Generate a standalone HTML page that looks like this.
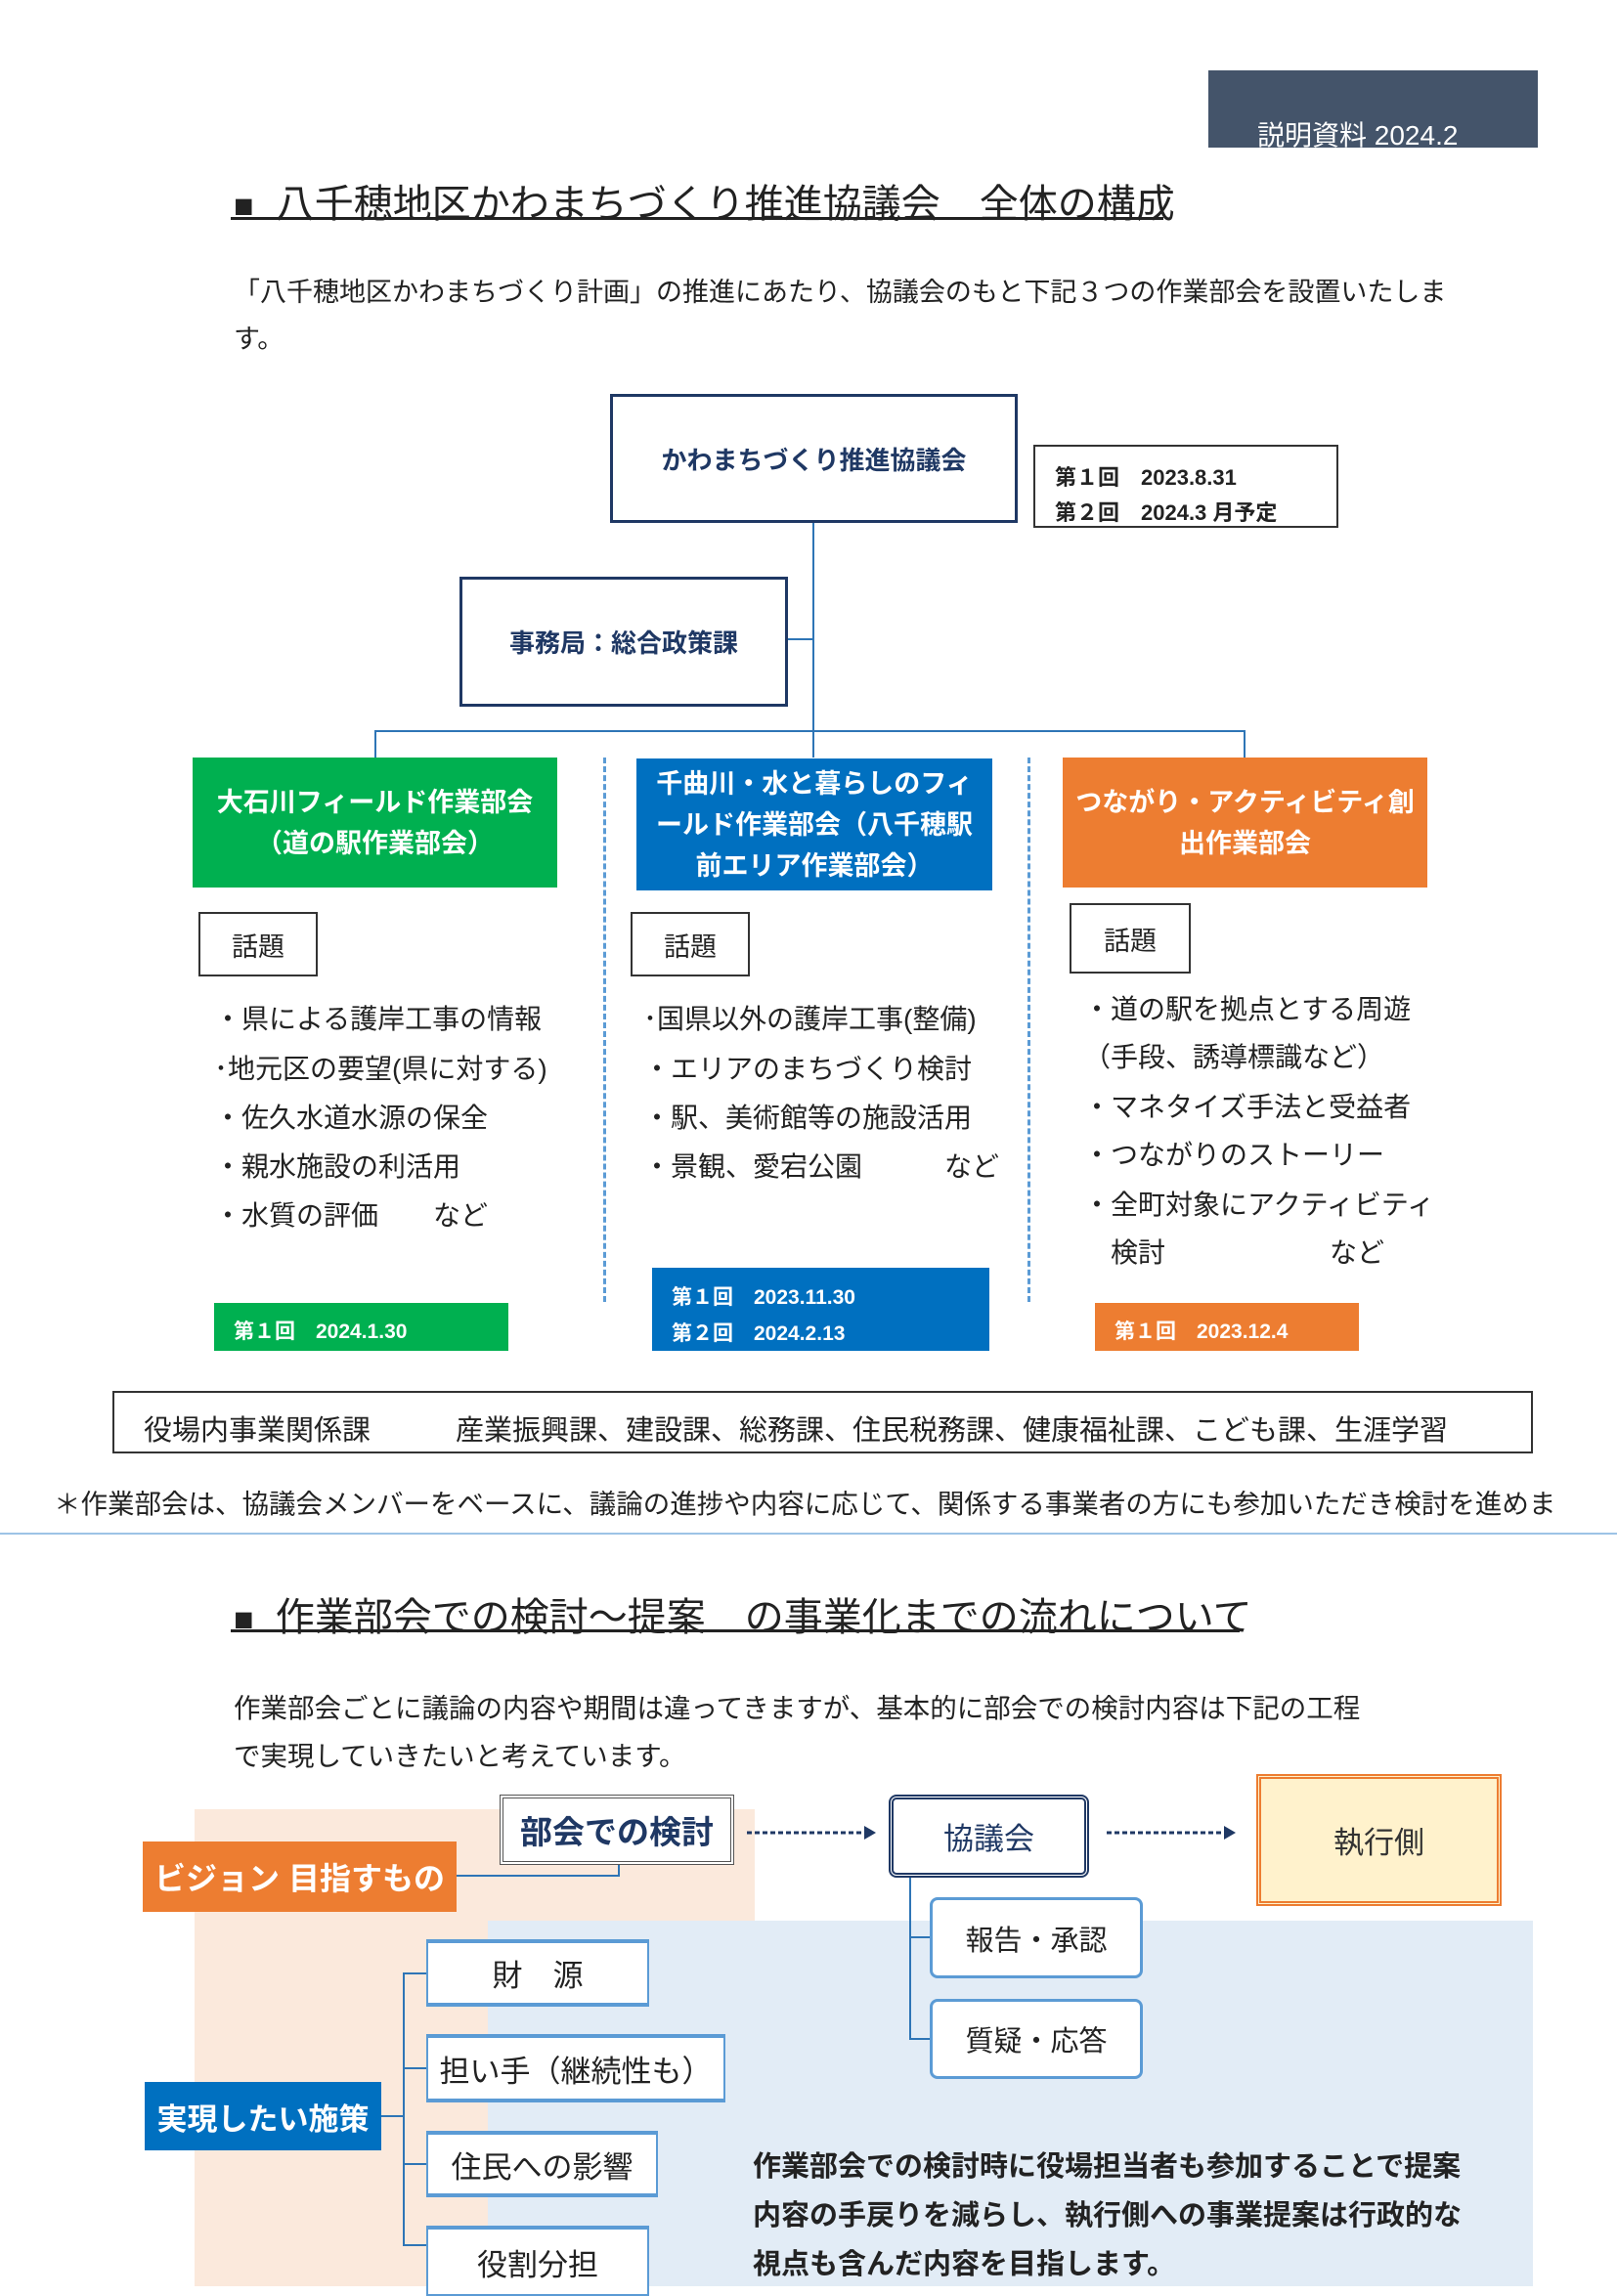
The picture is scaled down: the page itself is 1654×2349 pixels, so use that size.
<!DOCTYPE html>
<html><head><meta charset="utf-8">
<style>
*{margin:0;padding:0;box-sizing:border-box}
body{width:1654px;height:2339px;position:relative;background:#fff;font-family:"Liberation Sans","Noto Sans CJK JP",sans-serif;color:#222;overflow:hidden}
.a{position:absolute}
.c{display:flex;align-items:center;justify-content:center;text-align:center}
.t{white-space:nowrap}
.b{font-weight:bold}
.li{position:absolute;font-size:28px;white-space:nowrap;line-height:1}
</style></head><body>

<div class="a" style="left:1236px;top:72px;width:337px;height:79px;background:#44546a;overflow:hidden"><div class="a t" style="left:50px;top:45px;color:#fff;font-size:28px">説明資料 2024.2</div></div>

<div class="a t" style="left:239px;top:176px;font-size:40px"><span style="font-size:34px">■</span>&nbsp;&nbsp;八千穂地区かわまちづくり推進協議会　全体の構成</div>
<div class="a" style="left:236px;top:222px;width:954px;height:3px;background:#222"></div>
<div class="a t" style="left:239px;top:277px;font-size:27px">「八千穂地区かわまちづくり計画」の推進にあたり、協議会のもと下記３つの作業部会を設置いたしま</div>
<div class="a t" style="left:239px;top:325px;font-size:27px">す。</div>

<!-- connectors -->
<div class="a" style="left:831px;top:535px;width:2px;height:240px;background:#2e75b6"></div>
<div class="a" style="left:806px;top:653px;width:26px;height:2px;background:#2e75b6"></div>
<div class="a" style="left:383px;top:747px;width:891px;height:2px;background:#2e75b6"></div>
<div class="a" style="left:383px;top:747px;width:2px;height:28px;background:#2e75b6"></div>
<div class="a" style="left:1272px;top:747px;width:2px;height:28px;background:#2e75b6"></div>

<div class="a c b" style="left:624px;top:403px;width:417px;height:132px;border:3px solid #1f3864;color:#1f3864;font-size:26px">かわまちづくり推進協議会</div>
<div class="a b" style="left:1057px;top:455px;width:312px;height:85px;border:2px solid #333;font-size:22px;padding:14px 0 0 20px;line-height:36px">第１回　2023.8.31<br>第２回　2024.3 月予定</div>
<div class="a c b" style="left:470px;top:590px;width:336px;height:133px;border:3px solid #1f3864;color:#1f3864;font-size:26px">事務局：総合政策課</div>

<div class="a c b" style="left:197px;top:775px;width:373px;height:133px;background:#00b050;color:#fff;font-size:27px;line-height:42px">大石川フィールド作業部会<br>（道の駅作業部会）</div>
<div class="a c b" style="left:651px;top:776px;width:364px;height:135px;background:#0070c0;color:#fff;font-size:27px;line-height:42px">千曲川・水と暮らしのフィ<br>ールド作業部会（八千穂駅<br>前エリア作業部会）</div>
<div class="a c b" style="left:1087px;top:775px;width:373px;height:133px;background:#ed7d31;color:#fff;font-size:27px;line-height:42px">つながり・アクティビティ創<br>出作業部会</div>

<div class="a" style="left:617px;top:775px;height:557px;border-left:3px dashed #5b9bd5"></div>
<div class="a" style="left:1051px;top:775px;height:557px;border-left:3px dashed #5b9bd5"></div>

<div class="a c" style="left:203px;top:933px;width:122px;height:66px;border:2px solid #333;font-size:27px">話題</div>
<div class="a c" style="left:645px;top:933px;width:122px;height:66px;border:2px solid #333;font-size:27px">話題</div>
<div class="a c" style="left:1094px;top:924px;width:124px;height:72px;border:2px solid #333;font-size:27px">話題</div>

<div class="li" style="left:219px;top:1029px">・県による護岸工事の情報</div>
<div class="li" style="left:219px;top:1080px">･地元区の要望(県に対する)</div>
<div class="li" style="left:219px;top:1130px">・佐久水道水源の保全</div>
<div class="li" style="left:219px;top:1180px">・親水施設の利活用</div>
<div class="li" style="left:219px;top:1230px">・水質の評価　　など</div>

<div class="li" style="left:658px;top:1029px">･国県以外の護岸工事(整備)</div>
<div class="li" style="left:658px;top:1080px">・エリアのまちづくり検討</div>
<div class="li" style="left:658px;top:1130px">・駅、美術館等の施設活用</div>
<div class="li" style="left:658px;top:1180px">・景観、愛宕公園　　　など</div>

<div class="li" style="left:1108px;top:1019px">・道の駅を拠点とする周遊</div>
<div class="li" style="left:1108px;top:1068px">（手段、誘導標識など）</div>
<div class="li" style="left:1108px;top:1119px">・マネタイズ手法と受益者</div>
<div class="li" style="left:1108px;top:1168px">・つながりのストーリー</div>
<div class="li" style="left:1108px;top:1219px">・全町対象にアクティビティ</div>
<div class="li" style="left:1108px;top:1268px">　検討　　　　　　など</div>

<div class="a b t" style="left:219px;top:1333px;width:301px;height:49px;background:#00b050;color:#fff;font-size:21px;padding:13px 0 0 20px">第１回　2024.1.30</div>
<div class="a b" style="left:667px;top:1297px;width:345px;height:85px;background:#0070c0;color:#fff;font-size:21px;padding:12px 0 0 20px;line-height:37px">第１回　2023.11.30<br>第２回　2024.2.13</div>
<div class="a b t" style="left:1120px;top:1333px;width:270px;height:49px;background:#ed7d31;color:#fff;font-size:21px;padding:13px 0 0 20px">第１回　2023.12.4</div>

<div class="a t" style="left:115px;top:1423px;width:1453px;height:64px;border:2px solid #333;font-size:29px;padding:15px 0 0 30px">役場内事業関係課　　　産業振興課、建設課、総務課、住民税務課、健康福祉課、こども課、生涯学習</div>
<div class="a t" style="left:55px;top:1516px;font-size:27.5px">＊作業部会は、協議会メンバーをベースに、議論の進捗や内容に応じて、関係する事業者の方にも参加いただき検討を進めま</div>
<div class="a" style="left:0;top:1568px;width:1654px;height:2px;background:#9dc3e6"></div>

<div class="a t" style="left:239px;top:1622px;font-size:40px"><span style="font-size:34px">■</span>&nbsp;&nbsp;作業部会での検討～提案　の事業化までの流れについて</div>
<div class="a" style="left:236px;top:1667px;width:1032px;height:3px;background:#222"></div>
<div class="a t" style="left:239px;top:1725px;font-size:27.5px">作業部会ごとに議論の内容や期間は違ってきますが、基本的に部会での検討内容は下記の工程</div>
<div class="a t" style="left:239px;top:1774px;font-size:27.5px">で実現していきたいと考えています。</div>

<div class="a" style="left:199px;top:1851px;width:573px;height:488px;background:#fbe9dc"></div>
<div class="a" style="left:499px;top:1965px;width:1069px;height:374px;background:#e2ecf6"></div>

<!-- connectors -->
<div class="a" style="left:467px;top:1918px;width:167px;height:2px;background:#2e75b6"></div>
<div class="a" style="left:632px;top:1906px;width:2px;height:14px;background:#2e75b6"></div>
<div class="a" style="left:930px;top:1919px;width:2px;height:168px;background:#2e75b6"></div>
<div class="a" style="left:930px;top:1981px;width:22px;height:2px;background:#2e75b6"></div>
<div class="a" style="left:930px;top:2085px;width:22px;height:2px;background:#2e75b6"></div>
<div class="a" style="left:412px;top:2018px;width:2px;height:280px;background:#2e75b6"></div>
<div class="a" style="left:390px;top:2164px;width:23px;height:2px;background:#2e75b6"></div>
<div class="a" style="left:412px;top:2018px;width:24px;height:2px;background:#2e75b6"></div>
<div class="a" style="left:412px;top:2115px;width:24px;height:2px;background:#2e75b6"></div>
<div class="a" style="left:412px;top:2213px;width:24px;height:2px;background:#2e75b6"></div>
<div class="a" style="left:412px;top:2296px;width:24px;height:2px;background:#2e75b6"></div>

<div class="a c b" style="left:511px;top:1836px;width:240px;height:72px;border:4px double #555;background:#fff;color:#1f3864;font-size:33px">部会での検討</div>
<div class="a c b" style="left:146px;top:1884px;width:321px;height:72px;background:#ed7d31;color:#fff;font-size:32px">ビジョン 目指すもの</div>

<svg class="a" style="left:760px;top:1865px" width="140" height="20"><line x1="4" y1="10" x2="126" y2="10" stroke="#1f3864" stroke-width="3" stroke-dasharray="5,3"/><polygon points="124,3 136,10 124,17" fill="#1f3864"/></svg>
<svg class="a" style="left:1128px;top:1865px" width="140" height="20"><line x1="4" y1="10" x2="126" y2="10" stroke="#1f3864" stroke-width="3" stroke-dasharray="5,3"/><polygon points="124,3 136,10 124,17" fill="#1f3864"/></svg>

<div class="a c" style="left:909px;top:1836px;width:205px;height:85px;border:5px double #1f3864;border-radius:8px;background:#fff;color:#1f3864;font-size:31px">協議会</div>
<div class="a c" style="left:1285px;top:1815px;width:251px;height:135px;border:5px double #ed7d31;background:#fff2cc;color:#333;font-size:31px">執行側</div>

<div class="a c" style="left:951px;top:1941px;width:218px;height:83px;border:3px solid #5b9bd5;border-radius:8px;background:#fff;font-size:29px">報告・承認</div>
<div class="a c" style="left:951px;top:2045px;width:218px;height:82px;border:3px solid #5b9bd5;border-radius:8px;background:#fff;font-size:29px">質疑・応答</div>

<div class="a c" style="left:436px;top:1984px;width:228px;height:69px;border:2px solid #5b9bd5;border-top-width:4px;border-bottom-width:4px;background:#fff;font-size:31px">財　源</div>
<div class="a c" style="left:436px;top:2081px;width:306px;height:70px;border:2px solid #5b9bd5;border-top-width:4px;border-bottom-width:4px;background:#fff;font-size:31px">担い手（継続性も）</div>
<div class="a c" style="left:436px;top:2180px;width:237px;height:68px;border:2px solid #5b9bd5;border-top-width:4px;border-bottom-width:4px;background:#fff;font-size:31px">住民への影響</div>
<div class="a c" style="left:436px;top:2277px;width:228px;height:72px;border:2px solid #5b9bd5;border-top-width:4px;background:#fff;font-size:31px">役割分担</div>

<div class="a c b" style="left:148px;top:2130px;width:242px;height:70px;background:#0070c0;color:#fff;font-size:31px">実現したい施策</div>

<div class="a b" style="left:770px;top:2192px;font-size:29px;line-height:50px;white-space:nowrap">作業部会での検討時に役場担当者も参加することで提案<br>内容の手戻りを減らし、執行側への事業提案は行政的な<br>視点も含んだ内容を目指します。</div>
</body></html>
